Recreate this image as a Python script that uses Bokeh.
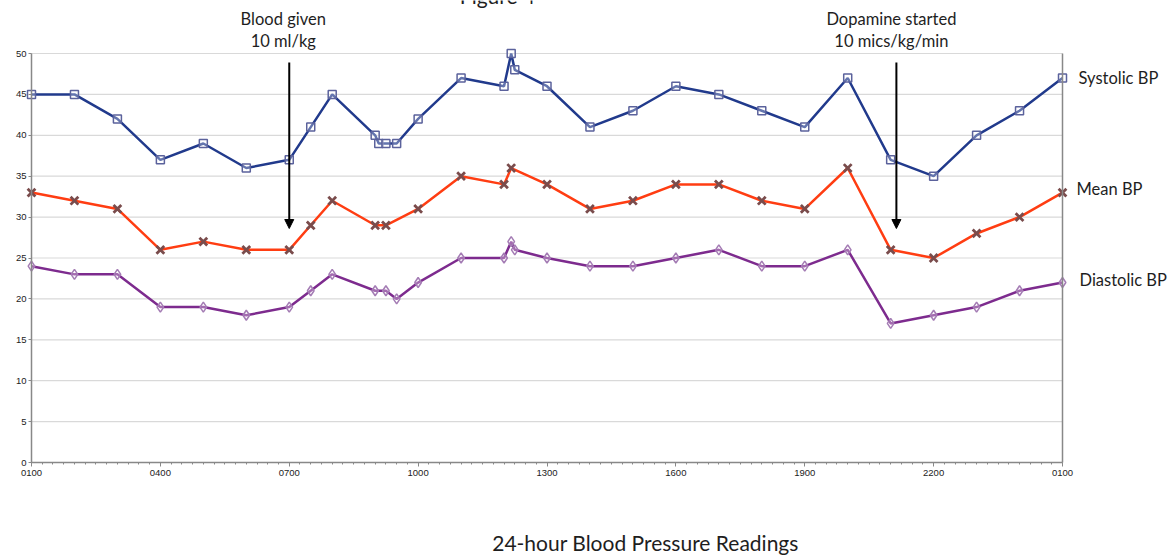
import numpy as np
from bokeh.plotting import figure
from bokeh.models import Range1d, LinearAxis, FixedTicker, Label, Arrow, NormalHead
from bokeh.embed import file_html
from bokeh.resources import INLINE

# ---------------- data ----------------
sys_times = ["0100", "0200", "0300", "0400", "0500", "0600", "0700", "0730", "0800", "0900", "0905",
             "0915", "0930", "1000", "1100", "1200", "1210", "1215", "1300", "1400", "1500", "1600",
             "1700", "1800", "1900", "2000", "2100", "2200", "2300", "0000", "0100"]
sys_vals = [45, 45, 42, 37, 39, 36, 37, 41, 45, 40, 39, 39, 39, 42, 47, 46, 50, 48, 46, 41, 43, 46,
            45, 43, 41, 47, 37, 35, 40, 43, 47]

mean_times = ["0100", "0200", "0300", "0400", "0500", "0600", "0700", "0730", "0800", "0900", "0915",
              "1000", "1100", "1200", "1210", "1300", "1400", "1500", "1600", "1700", "1800", "1900",
              "2000", "2100", "2200", "2300", "0000", "0100"]
mean_vals = [33, 32, 31, 26, 27, 26, 26, 29, 32, 29, 29, 31, 35, 34, 36, 34, 31, 32, 34, 34, 32, 31,
             36, 26, 25, 28, 30, 33]

dia_times = ["0100", "0200", "0300", "0400", "0500", "0600", "0700", "0730", "0800", "0900", "0915",
             "0930", "1000", "1100", "1200", "1210", "1215", "1300", "1400", "1500", "1600", "1700",
             "1800", "1900", "2000", "2100", "2200", "2300", "0000", "0100"]
dia_vals = [24, 23, 23, 19, 19, 18, 19, 21, 23, 21, 21, 20, 22, 25, 25, 27, 26, 25, 24, 24, 25, 26,
            24, 24, 26, 17, 18, 19, 21, 22]

tick_labels = ["0100", "0400", "0700", "1000", "1300", "1600", "1900", "2200", "0100"]
y_ticks = [0, 5, 10, 15, 20, 25, 30, 35, 40, 45, 50]

series_names = ["Systolic BP", "Mean BP", "Diastolic BP"]
events = [("0700", "Blood given", "10 ml/kg"), ("2108", "Dopamine started", "10 mics/kg/min")]
x_title = "24-hour Blood Pressure Readings"
fig_title = "Figure 4"


def elapsed(times, start=1):
    out, offset, prev = [], 0.0, None
    for t in times:
        h = (int(t[:2]) + int(t[2:]) / 60.0 - start) % 24
        if prev is not None and h + offset < prev:
            offset += 24
        out.append(h + offset)
        prev = h + offset
    return out


sys_x = elapsed(sys_times)
mean_x = elapsed(mean_times)
dia_x = elapsed(dia_times)

X0, X1 = 0, 24          # hours shown on the axis
Y0, Y1 = y_ticks[0], y_ticks[-1]

# ---------------- layout (pixels) ----------------
W, H = 1175, 555
FL, FR, FT, FB = 31, 1062, 53, 462      # plot area inside the canvas
pph = (FR - FL) / (X1 - X0)
ppu = (FB - FT) / (Y1 - Y0)

# the frame covers the whole canvas so that texts around the plot area are not clipped
p = figure(width=W, height=H, output_backend="svg", toolbar_location=None,
           x_range=Range1d(X0 - FL / pph, X1 + (W - FR) / pph),
           y_range=Range1d(Y0 - (H - FB) / ppu, Y1 + FT / ppu),
           min_border=0, min_border_left=0, min_border_right=0, min_border_top=0, min_border_bottom=0)
p.outline_line_color = None
p.background_fill_color = "white"
p.border_fill_color = "white"
p.xgrid.visible = False
p.ygrid.visible = False

axis_col = "#888888"
tick_font = "Liberation Sans"

# x axis at value 0
xa = p.xaxis[0]
xa.fixed_location = Y0
xa.bounds = (X0, X1)
xa.ticker = FixedTicker(ticks=list(range(X0, X1 + 1, 3)), minor_ticks=list(np.arange(X0, X1 + 0.001, 0.25)))
xa.major_label_overrides = {X0 + i * 3: lab for i, lab in enumerate(tick_labels)}
xa.axis_line_color = axis_col
xa.axis_line_width = 1.5
xa.major_tick_line_color = axis_col
xa.major_tick_out = 4
xa.major_tick_in = 0
xa.minor_tick_line_color = axis_col
xa.minor_tick_out = 2
xa.minor_tick_in = 0
xa.major_label_text_font = tick_font
xa.major_label_text_font_size = "9.5px"
xa.major_label_text_color = "#222222"
xa.major_label_standoff = 3

# y axis at hour 0
ya = p.yaxis[0]
ya.fixed_location = X0
ya.bounds = (Y0, Y1)
ya.ticker = FixedTicker(ticks=y_ticks, minor_ticks=[])
ya.axis_line_color = axis_col
ya.axis_line_width = 1.5
ya.major_tick_line_color = axis_col
ya.major_tick_out = 3
ya.major_tick_in = 0
ya.minor_tick_line_color = None
ya.major_label_text_font = tick_font
ya.major_label_text_font_size = "9.5px"
ya.major_label_text_color = "#222222"
ya.major_label_standoff = 2

# right border line of the plot area
ra = LinearAxis(ticker=FixedTicker(ticks=[]), major_label_text_font_size="0px",
                fixed_location=X1, bounds=(Y0, Y1),
                axis_line_color=axis_col, axis_line_width=1.5,
                major_tick_line_color=None, minor_tick_line_color=None)
p.add_layout(ra, "right")

# horizontal grid lines across the plot area
g_y = y_ticks[1:]
p.segment(x0=[X0] * len(g_y), y0=g_y, x1=[X1] * len(g_y), y1=g_y, line_color="#d9d9d9", line_width=1.2)

# series
p.line(sys_x, sys_vals, line_color="#213a8c", line_width=2.5)
p.scatter(sys_x, sys_vals, marker="square", size=8, line_color="#5b629c", line_width=1.5,
          fill_color="white", fill_alpha=0.3)
p.line(mean_x, mean_vals, line_color="#ff3d12", line_width=2.5)
p.scatter(mean_x, mean_vals, marker="x", size=11, line_color="#7a4c4c", line_width=2.8)
p.line(dia_x, dia_vals, line_color="#7d2b8e", line_width=2.5)
p.scatter(dia_x, dia_vals, marker="diamond", size=10, line_color="#a47cb4", line_width=1.5,
          fill_color="white", fill_alpha=0.3)

lab_font = "Lato"
txt_col = "#1e1e1e"

# series labels at the right of the last readings
last_vals = [sys_vals[-1], mean_vals[-1], dia_vals[-1]]
ends = [sys_x[-1], mean_x[-1], dia_x[-1]]
lab_dx = [16, 14, 17]
lab_dy = [0, 4, 3]
for name, xv, yv, dx, dy in zip(series_names, ends, last_vals, lab_dx, lab_dy):
    p.add_layout(Label(x=xv, y=yv, x_offset=dx, y_offset=dy, text=name, text_font=lab_font,
                       text_font_size="16.5px", text_color=txt_col, text_baseline="middle",
                       text_align="left"))

# events: arrows and their texts
arrow_top = Y1 - (62 - FT) / ppu
arrow_tip = Y0 + (FB - 228) / ppu
line1_y = Y0 + (FB - 18) / ppu
line2_y = Y0 + (FB - 40) / ppu
ev_dx = [-6, -5]
for (t, l1, l2), dx in zip(events, ev_dx):
    ex = elapsed([t])[0]
    p.add_layout(Arrow(x_start=ex, y_start=arrow_top, x_end=ex, y_end=arrow_tip,
                       line_color="black", line_width=2,
                       end=NormalHead(size=9, fill_color="black", line_color="black")))
    for txt, yy in ((l1, line1_y), (l2, line2_y)):
        p.add_layout(Label(x=ex, y=yy, x_offset=dx, text=txt, text_font=lab_font,
                           text_font_size="16.5px", text_color=txt_col, text_align="center",
                           text_baseline="middle"))

# x title below and figure title (cut at the top, as in the original)
p.add_layout(Label(x=X0 + (645 - FL) / pph, y=Y0 - (542 - FB) / ppu, text=x_title,
                   text_font=lab_font, text_font_size="21px", text_color=txt_col,
                   text_align="center", text_baseline="middle"))
p.add_layout(Label(x=X0 + (497 - FL) / pph, y=Y0 + (FB + 5) / ppu, text=fig_title,
                   text_font=lab_font, text_font_size="21px", text_color=txt_col,
                   text_align="center", text_baseline="middle"))

open("out.html", "w").write(file_html(p, INLINE))
